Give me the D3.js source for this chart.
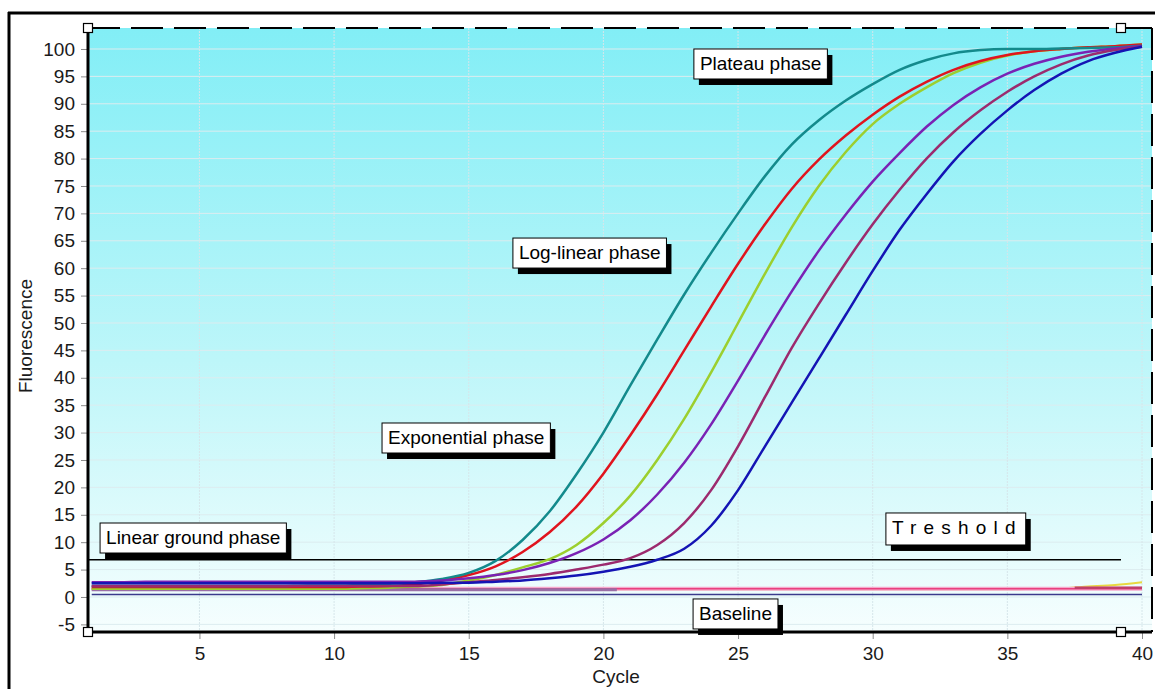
<!DOCTYPE html>
<html>
<head>
<meta charset="utf-8">
<script src="https://cdn.jsdelivr.net/npm/d3@7"></script>
<style>
  html, body { margin: 0; padding: 0; background: #ffffff; }
  svg { display: block; font-family: "Liberation Sans", Arial, sans-serif; }
</style>
</head>
<body>
<svg id="chart" width="1155" height="689"></svg>
<script>
// ---- data -------------------------------------------------------------
const cycles = [1,2,3,4,5,6,7,8,9,10,11,12,13,14,15,16,17,18,19,20,
                21,22,23,24,25,26,27,28,29,30,31,32,33,34,35,36,37,38,39,40];

// amplification curves (fluorescence per cycle)
const tealValues   = [2.0,2.0,2.0,2.0,2.0,2.0,2.0,2.0,2.1,2.1,2.2,2.4,2.7,3.3,4.4,6.6,10.4,15.6,22.4,30.0,
                      38.6,47.0,55.2,62.8,70.0,76.8,82.6,87.0,90.6,93.6,96.2,98.0,99.2,99.8,100.0,100.0,100.1,100.2,100.3,100.6];
const redValues    = [1.8,1.8,1.8,1.8,1.8,1.8,1.8,1.8,1.8,1.8,1.9,2.0,2.3,3.0,4.0,5.6,8.2,11.8,16.5,22.5,
                      29.5,37.0,45.0,53.0,60.8,68.0,74.5,79.8,84.2,88.0,91.3,94.0,96.2,97.8,98.9,99.6,100.0,100.3,100.5,100.8];
const greenValues  = [1.5,1.5,1.5,1.5,1.5,1.5,1.5,1.5,1.5,1.5,1.6,1.7,1.9,2.2,3.0,4.0,5.4,6.9,9.5,13.5,
                      18.5,25.0,32.5,41.0,50.0,59.0,67.5,75.0,81.2,86.3,90.0,93.0,95.6,97.5,98.8,99.6,100.0,100.3,100.5,100.8];
const purpleValues = [2.7,2.7,2.8,2.8,2.8,2.8,2.8,2.8,2.8,2.8,2.8,2.8,2.8,3.0,3.4,4.0,4.9,6.2,8.0,10.5,
                      14.0,18.7,24.5,31.5,39.5,47.8,55.8,63.2,69.8,75.8,81.0,85.8,89.8,93.0,95.5,97.3,98.6,99.5,100.1,100.5];
const maroonValues = [2.0,2.0,2.0,2.0,2.0,2.0,2.0,2.0,2.0,2.0,2.0,2.0,2.0,2.3,2.7,3.1,3.6,4.2,5.0,5.9,
                      7.1,9.5,13.5,19.5,27.5,36.5,45.5,53.5,61.0,68.0,74.3,80.0,84.8,88.8,92.2,95.0,97.2,98.8,99.8,100.4];
const blueValues   = [2.5,2.5,2.5,2.5,2.5,2.5,2.5,2.5,2.5,2.5,2.5,2.5,2.5,2.6,2.6,2.8,3.0,3.4,3.9,4.6,
                      5.5,6.8,8.8,13.0,19.5,27.5,35.5,43.5,51.5,59.5,67.0,73.5,79.5,84.5,88.8,92.5,95.5,97.8,99.3,100.4];

// non-amplifying wells
const pinkValues   = [1.5,1.5,1.5,1.5,1.5,1.5,1.5,1.5,1.5,1.5,1.5,1.5,1.5,1.5,1.5,1.5,1.5,1.5,1.5,1.5,
                      1.5,1.5,1.5,1.5,1.5,1.5,1.5,1.5,1.5,1.5,1.5,1.5,1.5,1.5,1.5,1.5,1.5,1.5,1.5,1.5];
const yellowValues = [1.4,1.4,1.4,1.4,1.4,1.4,1.4,1.4,1.4,1.4,1.4,1.4,1.4,1.4,1.4,1.4,1.4,1.4,1.4,1.4,
                      1.4,1.4,1.4,1.4,1.4,1.4,1.4,1.4,1.4,1.4,1.4,1.4,1.4,1.4,1.4,1.5,1.6,1.9,2.2,2.7];
const mauveCycles  = [1,2,3,4,5,6,7,8,9,10,11,12,13,14,15,16,17,18,19,20,20.5];
const mauveValues  = [1.3,1.3,1.3,1.3,1.3,1.3,1.3,1.3,1.3,1.3,1.3,1.3,1.3,1.3,1.3,1.3,1.3,1.3,1.3,1.3,1.3];
const lateCycles   = [37.5,38,39,40];
const lateValues   = [1.7,1.7,1.7,1.7];
const baselineLevel = 0.45;
const thresholdLevel = 6.8;

// axis ticks
const yTicks = [-5,0,5,10,15,20,25,30,35,40,45,50,55,60,65,70,75,80,85,90,95,100];
const xTicks = [5,10,15,20,25,30,35,40];

// phase annotations, anchored (left, top) in cycle / fluorescence units
const noteTexts  = ["Plateau phase","Log-linear phase","Exponential phase","Linear ground phase","Treshold","Baseline"];
const noteCycles = [23.36, 16.64, 11.78, 1.31, 30.49, 23.33];
const noteLevels = [100.0, 65.5, 31.75, 13.5, 15.33, -0.36];

// ---- layout -------------------------------------------------------------
const svg = d3.select("#chart");
const pL = 88, pR = 1152, pT = 28, pB = 632;

const x = d3.scaleLinear().domain([0.862, 40.371]).range([pL, pR]);
const y = d3.scaleLinear().domain([-6.39, 103.83]).range([pB, pT]);

// outer frame
svg.append("line").attr("x1", 8).attr("x2", 1155).attr("y1", 13).attr("y2", 13)
   .attr("stroke", "#000").attr("stroke-width", 3);
svg.append("line").attr("x1", 9).attr("x2", 9).attr("y1", 12).attr("y2", 689)
   .attr("stroke", "#000").attr("stroke-width", 3);

// plot background gradient
const defs = svg.append("defs");
const grad = defs.append("linearGradient").attr("id", "bg")
  .attr("x1", 0).attr("y1", 0).attr("x2", 0).attr("y2", 1);
grad.append("stop").attr("offset", "0%").attr("stop-color", "#82eef6");
grad.append("stop").attr("offset", "55%").attr("stop-color", "#bdf6f9");
grad.append("stop").attr("offset", "100%").attr("stop-color", "#f6fefe");
svg.append("rect").attr("x", pL).attr("y", pT)
   .attr("width", pR - pL).attr("height", pB - pT).attr("fill", "url(#bg)");

// grid
const grid = svg.append("g");
grid.selectAll("line.h").data(yTicks).join("line")
  .attr("x1", pL).attr("x2", pR)
  .attr("y1", d => y(d)).attr("y2", d => y(d))
  .attr("stroke", "#dcecef").attr("stroke-width", 1);
grid.selectAll("line.v").data(xTicks).join("line")
  .attr("x1", d => x(d)).attr("x2", d => x(d))
  .attr("y1", pT).attr("y2", pB)
  .attr("stroke", "#d6e6ea").attr("stroke-width", 1).attr("stroke-dasharray", "2,1");

// axes (ticks + labels)
const plain = d => String(d);
const yAxis = d3.axisLeft(y).tickValues(yTicks).tickFormat(plain).tickSize(7).tickPadding(6);
const gy = svg.append("g").attr("transform", `translate(${pL},0)`).call(yAxis);
const xAxis = d3.axisBottom(x).tickValues(xTicks).tickFormat(plain).tickSize(7).tickPadding(8);
const gx = svg.append("g").attr("transform", `translate(0,${pB})`).call(xAxis);
[gx, gy].forEach(g => {
  g.select(".domain").remove();
  g.selectAll(".tick line").attr("stroke", "#8a8a8a");
  g.selectAll(".tick text").attr("fill", "#1a1a1a")
    .style("font-size", "19px").style("font-family", "'Liberation Sans', Arial, sans-serif");
});

svg.append("text").attr("x", 616).attr("y", 683).attr("text-anchor", "middle")
   .style("font-size", "19px").attr("fill", "#1a1a1a").text("Cycle");
svg.append("text").attr("transform", "translate(32,336) rotate(-90)").attr("text-anchor", "middle")
   .style("font-size", "19px").attr("fill", "#1a1a1a").text("Fluorescence");

// ---- series -------------------------------------------------------------
const line = d3.line().x(d => x(d[0])).y(d => y(d[1])).curve(d3.curveMonotoneX);
const pairs = (cs, vs) => cs.map((c, i) => [c, vs[i]]);

const plot = svg.append("g");

// baseline level
plot.append("line").attr("x1", x(1)).attr("x2", x(40))
   .attr("y1", y(baselineLevel)).attr("y2", y(baselineLevel))
   .attr("stroke", "#3a3a8c").attr("stroke-width", 1.5);

// flat wells
plot.append("path").attr("d", line(pairs(cycles, yellowValues)))
   .attr("fill", "none").attr("stroke", "#e8d840").attr("stroke-width", 2);
plot.append("path").attr("d", line(pairs(cycles, pinkValues)))
   .attr("fill", "none").attr("stroke", "#f6a8cc").attr("stroke-width", 4);
plot.append("path").attr("d", line(pairs(cycles, pinkValues)))
   .attr("fill", "none").attr("stroke", "#e8407e").attr("stroke-width", 1.5);
plot.append("path").attr("d", line(pairs(mauveCycles, mauveValues)))
   .attr("fill", "none").attr("stroke", "#9a6ea6").attr("stroke-width", 3);
plot.append("path").attr("d", line(pairs(lateCycles, lateValues)))
   .attr("fill", "none").attr("stroke", "#c0406a").attr("stroke-width", 2.5);

// threshold
plot.append("line").attr("x1", pL).attr("x2", 1121)
   .attr("y1", y(thresholdLevel)).attr("y2", y(thresholdLevel))
   .attr("stroke", "#000").attr("stroke-width", 1.5);

// amplification curves
const curves = [
  { v: greenValues,  c: "#9ccf2e" },
  { v: redValues,    c: "#e0141e" },
  { v: tealValues,   c: "#138a8c" },
  { v: purpleValues, c: "#7a22b4" },
  { v: maroonValues, c: "#9c2a6e" },
  { v: blueValues,   c: "#1414b4" }
];
plot.selectAll("path.curve").data(curves).join("path")
  .attr("class", "curve")
  .attr("d", d => line(pairs(cycles, d.v)))
  .attr("fill", "none").attr("stroke", d => d.c).attr("stroke-width", 2.5)
  .attr("stroke-linejoin", "round");

// ---- frame lines -------------------------------------------------------
svg.append("line").attr("x1", pL).attr("x2", pR).attr("y1", pT).attr("y2", pT)
   .attr("stroke", "#000").attr("stroke-width", 2).attr("stroke-dasharray", "32,11");
svg.append("line").attr("x1", pR).attr("x2", pR).attr("y1", pT).attr("y2", pB)
   .attr("stroke", "#000").attr("stroke-width", 2).attr("stroke-dasharray", "32,11");
svg.append("line").attr("x1", pL).attr("x2", pR).attr("y1", pB).attr("y2", pB)
   .attr("stroke", "#000").attr("stroke-width", 3);
svg.append("line").attr("x1", pL).attr("x2", pL).attr("y1", pT).attr("y2", pB + 1)
   .attr("stroke", "#000").attr("stroke-width", 3);

// selection handles
const handles = [[pL, pT], [1121, pT], [pL, pB], [1121, pB]];
svg.selectAll("rect.handle").data(handles).join("rect")
  .attr("class", "handle")
  .attr("x", d => d[0] - 4.5).attr("y", d => d[1] - 4.5)
  .attr("width", 9).attr("height", 9)
  .attr("fill", "#fff").attr("stroke", "#000").attr("stroke-width", 1.2);

// ---- annotations ---------------------------------------------------------
const notes = svg.append("g");
noteTexts.forEach((t, i) => {
  const g = notes.append("g");
  const bx = x(noteCycles[i]), by = y(noteLevels[i]);
  const spaced = t === "Treshold";
  const txt = g.append("text").attr("x", bx + 6).attr("y", by + 21)
    .style("font-size", "19px").attr("fill", "#000")
    .style("letter-spacing", spaced ? "7.2px" : "0px")
    .text(t);
  const w = txt.node().getComputedTextLength() + (spaced ? 9 : 12);
  const h = spaced ? 32 : 30;
  g.insert("rect", "text").attr("x", bx + 5).attr("y", by + 6)
    .attr("width", w).attr("height", h).attr("fill", "#000");
  g.insert("rect", "text").attr("x", bx).attr("y", by)
    .attr("width", w).attr("height", h)
    .attr("fill", "#fff").attr("stroke", "#000").attr("stroke-width", 1);
});
</script>
</body>
</html>
